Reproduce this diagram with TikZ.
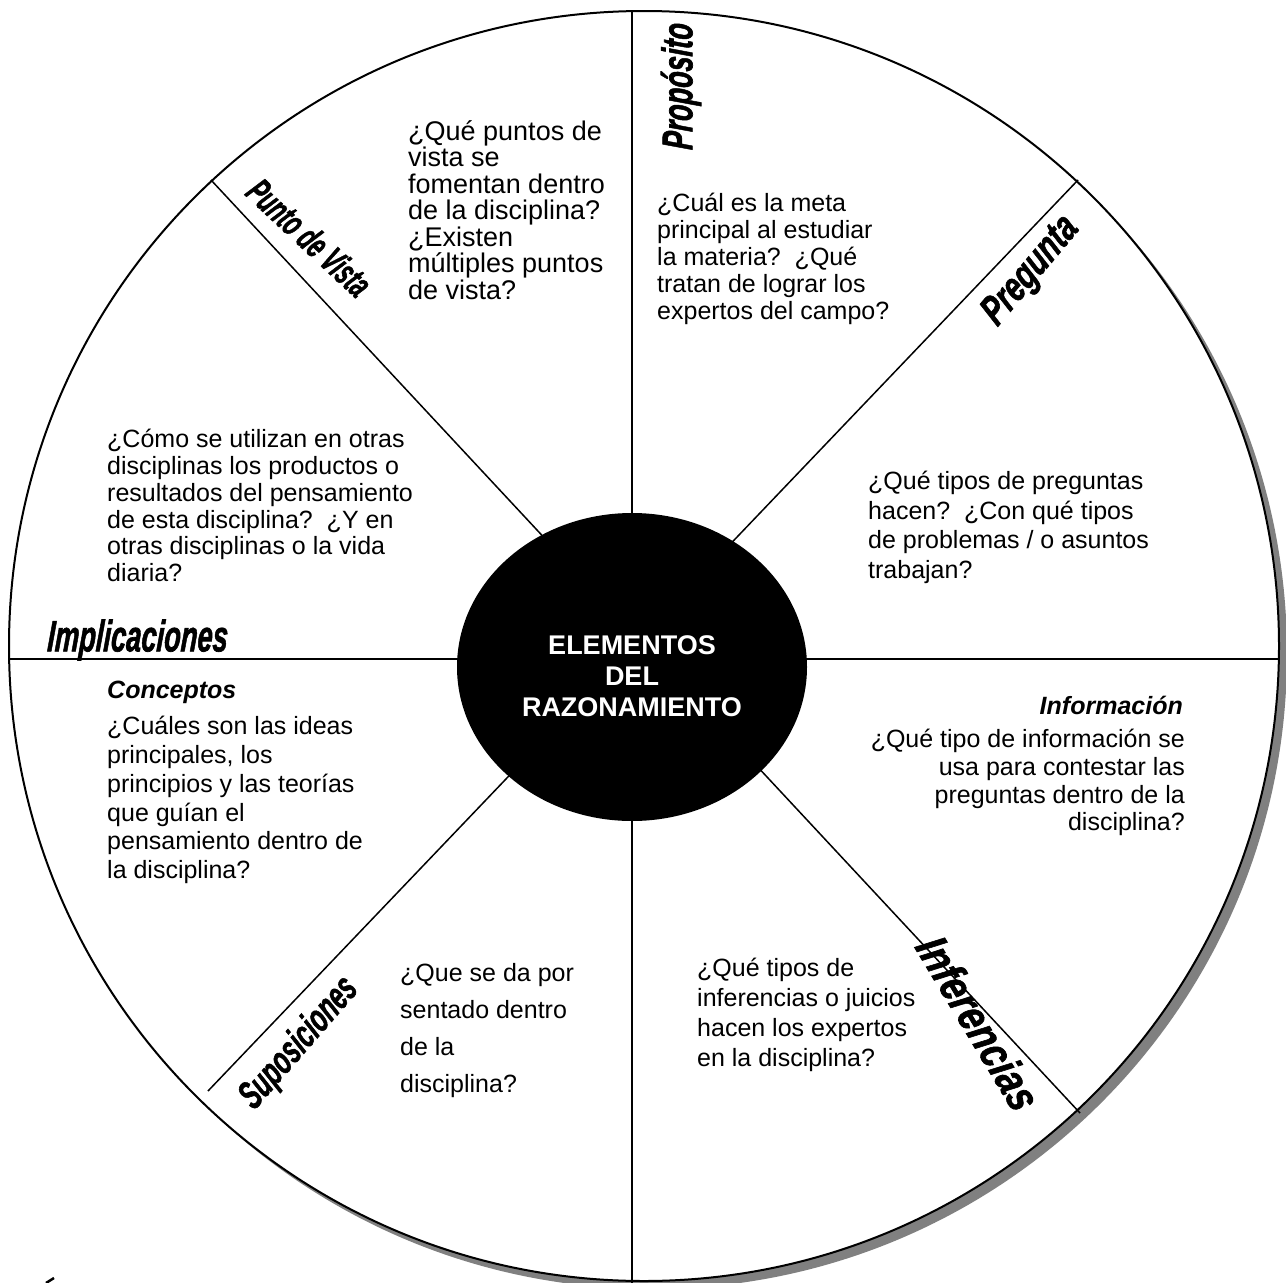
\documentclass[tikz,border=0pt]{standalone}
\usepackage{fontspec}
\setmainfont{Liberation Sans}
\usepackage{graphicx}
\usetikzlibrary{shapes.geometric}

\newcommand{\wordart}[3]{\scalebox{#1}[1]{\fontsize{#2}{#2}\selectfont\bfseries\itshape\addfontfeatures{FakeBold=1.6,FakeSlant=0.1}#3}}

\begin{document}
\begin{tikzpicture}[x=1pt,y=-1pt,
  txt/.style={font=\fontsize{25}{#1}\selectfont,align=left,anchor=north west,inner sep=0pt},
  rtxt/.style={font=\fontsize{25}{#1}\selectfont,align=right,anchor=north east,inner sep=0pt},
  head/.style={font=\fontsize{25}{28}\selectfont\bfseries\itshape,inner sep=0pt},
  divider/.style={line width=1.5pt},
  hub/.style={ellipse,fill=black,minimum width=350pt,minimum height=308pt,inner sep=0pt},
  lbl/.style={inner sep=0pt}]
\fill[white] (0,0) rectangle (1286,1283);
\useasboundingbox (0,0) rectangle (1286,1283);
\fill[black!50] (652,654) circle[radius=635pt];
\filldraw[fill=white,line width=2pt] (644,646) circle[radius=635pt];

\coordinate (n) at (632,11); \coordinate (s) at (632,1283);
\coordinate (w) at (9,659); \coordinate (e) at (1279,659);
\coordinate (nw) at (211,180); \coordinate (se) at (1080,1113);
\coordinate (ne) at (1078,180); \coordinate (sw) at (208,1091);
\draw[divider] (n) -- (s);
\draw[divider] (w) -- (e);
\draw[divider] (nw) -- (se);
\draw[divider] (ne) -- (sw);

\node[hub] at (632,667) (hub) {};
\node[text=white,align=center,inner sep=0pt,font=\fontsize{27}{31}\selectfont\bfseries] at (632,676) (title) {ELEMENTOS\\DEL\\RAZONAMIENTO};

\node[lbl,rotate=90] at (681,87) (proposito) {\wordart{0.63}{43}{Propósito}};
\node[lbl,rotate=-43] at (309,237) (punto) {\wordart{0.6}{37}{Punto de Vista}};
\node[lbl,rotate=50] at (1031,272) (pregunta) {\wordart{0.72}{41}{Pregunta}};
\node[lbl] at (137,640) (implica) {\wordart{0.62}{44}{Implicaciones}};
\node[lbl,rotate=49] at (299,1044) (suposi) {\wordart{0.63}{39}{Suposiciones}};
\node[lbl,rotate=-59] at (978,1022) (infer) {\wordart{0.82}{45}{Inferencias}};

\node[txt=26.5,font=\fontsize{27}{26.5}\selectfont] at (408,120) (qpunto) {¿Qué puntos de\\vista se\\fomentan dentro\\de la disciplina?\\¿Existen\\múltiples puntos\\de vista?};
\node[txt=27] at (657,193) (qprop) {¿Cuál es la meta\\principal al estudiar\\la materia?\ \ ¿Qué\\tratan de lograr los\\expertos del campo?};
\node[txt=26.8] at (107,429) (qimpl) {¿Cómo se utilizan en otras\\disciplinas los productos o\\resultados del pensamiento\\de esta disciplina?\ \ ¿Y en\\otras disciplinas o la vida\\diaria?};
\node[txt=29.5] at (868,471) (qpreg) {¿Qué tipos de preguntas\\hacen?\ \ ¿Con qué tipos\\de problemas / o asuntos\\trabajan?};
\node[head,anchor=north east] at (1183,696) (hinfo) {Información};
\node[rtxt=27.7] at (1185,729) (qinfo) {¿Qué tipo de información se\\usa para contestar las\\preguntas dentro de la\\disciplina?};
\node[head,anchor=north west] at (107,681) (hconc) {Conceptos};
\node[txt=28.8] at (107,716) (qconc) {¿Cuáles son las ideas\\principales, los\\principios y las teorías\\que guían el\\pensamiento dentro de\\la disciplina?};
\node[txt=37] at (400,963) (qsupo) {¿Que se da por\\sentado dentro\\de la\\disciplina?};
\node[txt=30] at (697,958) (qinfer) {¿Qué tipos de\\inferencias o juicios\\hacen los expertos\\en la disciplina?};

\draw[line width=2.5pt] (46,1283) -- (54,1278);
\end{tikzpicture}
\end{document}
